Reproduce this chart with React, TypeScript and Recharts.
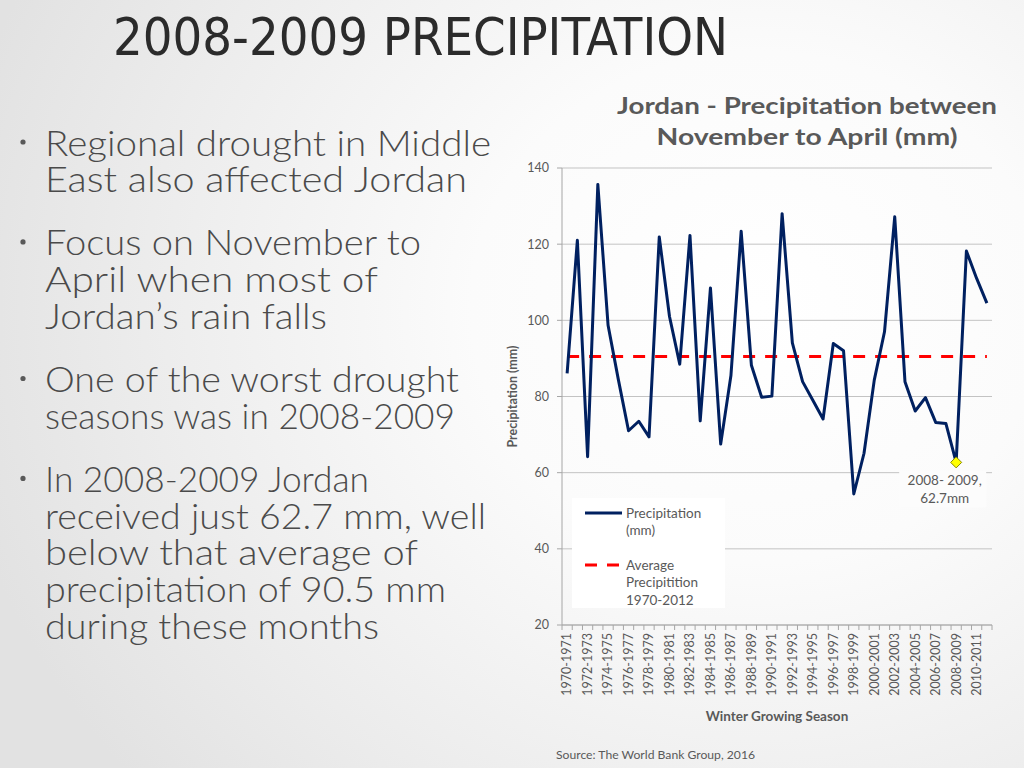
import React from 'react';
import { LineChart, Line, XAxis, YAxis, CartesianGrid, Legend, ReferenceDot, Label } from 'recharts';

// ---------------- data ----------------
const seasons = [
  '1970-1971', '1971-1972', '1972-1973', '1973-1974', '1974-1975', '1975-1976', '1976-1977',
  '1977-1978', '1978-1979', '1979-1980', '1980-1981', '1981-1982', '1982-1983', '1983-1984',
  '1984-1985', '1985-1986', '1986-1987', '1987-1988', '1988-1989', '1989-1990', '1990-1991',
  '1991-1992', '1992-1993', '1993-1994', '1994-1995', '1995-1996', '1996-1997', '1997-1998',
  '1998-1999', '1999-2000', '2000-2001', '2001-2002', '2002-2003', '2003-2004', '2004-2005',
  '2005-2006', '2006-2007', '2007-2008', '2008-2009', '2009-2010', '2010-2011', '2011-2012',
];
const precipitation = [
  86.1, 121, 64.2, 135.7, 98.7, 84.5, 71, 73.5, 69.4, 121.9, 101, 88.5, 122.3, 73.6,
  108.5, 67.5, 85.5, 123.4, 88.2, 79.8, 80.1, 128, 94.1, 83.9, 79, 74.1, 93.9, 92,
  54.4, 65.1, 84.3, 97, 127.2, 83.9, 76.2, 79.7, 73.2, 72.9, 62.7, 118.2, 111, 104.5,
];
const averagePrecipitation = 90.5;
const yTicks = [20, 40, 60, 80, 100, 120, 140];
const highlightSeason = '2008-2009';
const highlightValue = 62.7;
const annotationLines = ['2008- 2009,', '62.7mm'];

const slideTitle = '2008-2009 PRECIPITATION';
const chartTitleLines = ['Jordan - Precipitation between', 'November to April (mm)'];
const xAxisTitle = 'Winter Growing Season';
const yAxisTitle = 'Precipitation (mm)';
const sourceText = 'Source: The World Bank Group, 2016';
const seriesNames = ['Precipitation (mm)', 'Average Precipitition 1970-2012'];
const legendLabelLines = [['Precipitation', '(mm)'], ['Average', 'Precipitition', '1970-2012']];
const bulletGroups = [
  ['Regional drought in Middle', 'East also affected Jordan'],
  ['Focus on November to', 'April when most of', 'Jordan\u2019s rain falls'],
  ['One of the worst drought', 'seasons was in 2008-2009'],
  ['In 2008-2009 Jordan', 'received just 62.7 mm, well', 'below that average of', 'precipitation of 90.5 mm', 'during these months'],
];
// measured widths of each bullet line (layout)
const bulletLineWidths = [[446, 422], [376, 333, 282], [414, 410], [324, 441, 373, 401, 334]];

const data = seasons.map((season, i) => ({
  season,
  precip: precipitation[i],
  avg: averagePrecipitation,
}));

// ---------------- layout ----------------
const FONT = "Lato, 'Noto Sans', sans-serif";
const TEXT_GRAY = '#595959';
const NAVY = '#002060';
const RED = '#ff0000';
const CHART_LEFT = 490;
const CHART_TOP = 80;
const CHART_W = 520;
const CHART_H = 670;
const MARGIN = { top: 88, right: 18, left: 20, bottom: 40 };
const Y_AXIS_W = 52;
const X_AXIS_H = 85;
const PLOT_W = CHART_W - MARGIN.left - MARGIN.right - Y_AXIS_W;
const HALF_STEP = PLOT_W / seasons.length / 2;

const XTick = (props: any) => {
  const { x, y, payload, index } = props;
  const step = HALF_STEP * 2;
  const axisY = y - 8;
  const isLast = index === seasons.length - 1;
  return (
    <g>
      <line x1={x - step / 2} x2={x - step / 2} y1={axisY} y2={axisY + 5} stroke="#a6a6a6" />
      {isLast && <line x1={x + step / 2} x2={x + step / 2} y1={axisY} y2={axisY + 5} stroke="#a6a6a6" />}
      {index % 2 === 0 && (
        <text
          x={x}
          y={y}
          dy="0.35em"
          textAnchor="end"
          transform={`rotate(-90, ${x}, ${y})`}
          fontFamily={FONT}
          fontSize={12.5}
          fill={TEXT_GRAY}
        >
          {payload.value}
        </text>
      )}
    </g>
  );
};

const DiamondWithNote = (props: any) => {
  const { cx, cy } = props;
  if (cx == null || cy == null) return <g />;
  const s = 5.5;
  return (
    <g>
      <rect x={cx - 57} y={cy + 9} width={87} height={36} fill="#fcfcfc" />
      <path
        d={`M${cx},${cy - s} L${cx + s},${cy} L${cx},${cy + s} L${cx - s},${cy} Z`}
        fill="#ffff00"
        stroke="#8a8a00"
        strokeWidth={1}
      />
      {annotationLines.map((t, i) => (
        <text
          key={t}
          x={cx - 11.5}
          y={cy + 23 + i * 17.5}
          textAnchor="middle"
          fontFamily={FONT}
          fontSize={13.5}
          fill={TEXT_GRAY}
        >
          {t}
        </text>
      ))}
    </g>
  );
};

const LegendBox = (props: any) => {
  const payload = props.payload || [];
  const ordered = seriesNames.map((n) => payload.find((p: any) => p.value === n)).filter(Boolean);
  const rowStarts = [15, 67];
  return (
    <div style={{ width: 153, height: 110, background: '#ffffff' }}>
      <svg width={153} height={110} style={{ display: 'block' }}>
        {ordered.map((entry: any, i: number) => {
          const y0 = rowStarts[i];
          const dashed = i === 1;
          return (
            <g key={entry.value}>
              <line
                x1={13}
                x2={dashed ? 47 : 50}
                y1={y0}
                y2={y0}
                stroke={entry.color}
                strokeWidth={3}
                strokeDasharray={dashed ? '12 10' : undefined}
              />
              {legendLabelLines[i].map((t, k) => (
                <text
                  key={t}
                  x={54}
                  y={y0 + k * 17.7}
                  dy="0.35em"
                  fontFamily={FONT}
                  fontSize={13.5}
                  fill={TEXT_GRAY}
                >
                  {t}
                </text>
              ))}
            </g>
          );
        })}
      </svg>
    </div>
  );
};

const SlideText = () => {
  const lines: { text: string; y: number; w: number; first: boolean }[] = [];
  let baseline = 155.5;
  bulletGroups.forEach((group, g) => {
    group.forEach((t, k) => {
      lines.push({ text: t, y: baseline, w: bulletLineWidths[g][k], first: k === 0 });
      baseline += 36.7;
    });
    baseline += 26.5;
  });
  return (
    <svg width={1024} height={768} style={{ position: 'absolute', left: 0, top: 0 }}>
      <text
        x={113}
        y={55}
        fontFamily="'Liberation Sans Narrow', 'DejaVu Sans Condensed', Lato, sans-serif"
        fontSize={51}
        fontWeight={300}
        fill="#2b2b2b"
        textLength={615}
        lengthAdjust="spacingAndGlyphs"
      >
        {slideTitle}
      </text>
      {lines.map((l, i) => (
        <g key={i}>
          {l.first && <circle cx={23} cy={l.y - 13.5} r={2.6} fill={TEXT_GRAY} />}
          <text
            x={45}
            y={l.y}
            fontFamily={FONT}
            fontSize={36}
            fontWeight={300}
            fill="#4a4a4a"
            textLength={l.w}
            lengthAdjust="spacingAndGlyphs"
          >
            {l.text}
          </text>
        </g>
      ))}
      {chartTitleLines.map((t, i) => (
        <text
          key={t}
          x={807}
          y={113.5 + i * 31.5}
          textAnchor="middle"
          fontFamily={FONT}
          fontWeight={700}
          fontSize={23}
          fill={TEXT_GRAY}
          textLength={i === 0 ? 380 : 301}
          lengthAdjust="spacingAndGlyphs"
        >
          {t}
        </text>
      ))}
      <text x={556} y={759} fontFamily={FONT} fontSize={11.5} fill={TEXT_GRAY} textLength={199} lengthAdjust="spacingAndGlyphs">
        {sourceText}
      </text>
    </svg>
  );
};

export default function App() {
  return (
    <div
      style={{
        position: 'absolute',
        left: 0,
        top: 0,
        width: 1024,
        height: 768,
        overflow: 'hidden',
        background:
          'radial-gradient(ellipse 80% 95% at 74% 40%, #ffffff 0%, #fbfbfb 35%, #ececec 75%, #e2e2e2 100%)',
      }}
    >
      <SlideText />
      <div style={{ position: 'absolute', left: CHART_LEFT, top: CHART_TOP }}>
        <LineChart width={CHART_W} height={CHART_H} data={data} margin={MARGIN}>
          <CartesianGrid vertical={false} stroke="#c3c3c3" />
          <XAxis
            dataKey="season"
            interval={0}
            height={X_AXIS_H}
            padding={{ left: HALF_STEP, right: HALF_STEP }}
            tickSize={0}
            tickMargin={8}
            tickLine={false}
            tick={<XTick />}
            axisLine={{ stroke: '#a6a6a6' }}
          >
            <Label
              content={(p: any) => {
                const vb = p.viewBox || {};
                return (
                  <text
                    x={vb.x + vb.width / 2}
                    y={vb.y + 96}
                    textAnchor="middle"
                    fontFamily={FONT}
                    fontWeight={700}
                    fontSize={13.5}
                    fill={TEXT_GRAY}
                  >
                    {xAxisTitle}
                  </text>
                );
              }}
            />
          </XAxis>
          <YAxis
            domain={[20, 140]}
            ticks={yTicks}
            width={Y_AXIS_W}
            tickSize={5}
            tickMargin={8}
            tickLine={{ stroke: '#a6a6a6' }}
            axisLine={{ stroke: '#a6a6a6' }}
            tick={{ fontFamily: FONT, fontSize: 12.5, fill: TEXT_GRAY }}
            allowDataOverflow
          >
            <Label
              content={(p: any) => {
                const vb = p.viewBox || {};
                const cx = vb.x + 3;
                const cy = vb.y + vb.height / 2;
                return (
                  <text
                    x={cx}
                    y={cy}
                    dy="0.35em"
                    textAnchor="middle"
                    transform={`rotate(-90, ${cx}, ${cy})`}
                    fontFamily={FONT}
                    fontWeight={700}
                    fontSize={12.5}
                    fill={TEXT_GRAY}
                  >
                    {yAxisTitle}
                  </text>
                );
              }}
            />
          </YAxis>
          <Legend
            layout="vertical"
            align="center"
            verticalAlign="middle"
            wrapperStyle={{ left: 82, top: 418, width: 153, height: 110 }}
            content={<LegendBox />}
          />
          <Line
            name={seriesNames[1]}
            dataKey="avg"
            stroke={RED}
            strokeWidth={3}
            strokeDasharray="12 10"
            dot={false}
            activeDot={false}
            isAnimationActive={false}
          />
          <Line
            name={seriesNames[0]}
            dataKey="precip"
            stroke={NAVY}
            strokeWidth={3}
            strokeLinejoin="round"
            dot={false}
            activeDot={false}
            isAnimationActive={false}
          />
          <ReferenceDot
            x={highlightSeason}
            y={highlightValue}
            r={5}
            ifOverflow="visible"
            shape={<DiamondWithNote />}
          />
        </LineChart>
      </div>
    </div>
  );
}
